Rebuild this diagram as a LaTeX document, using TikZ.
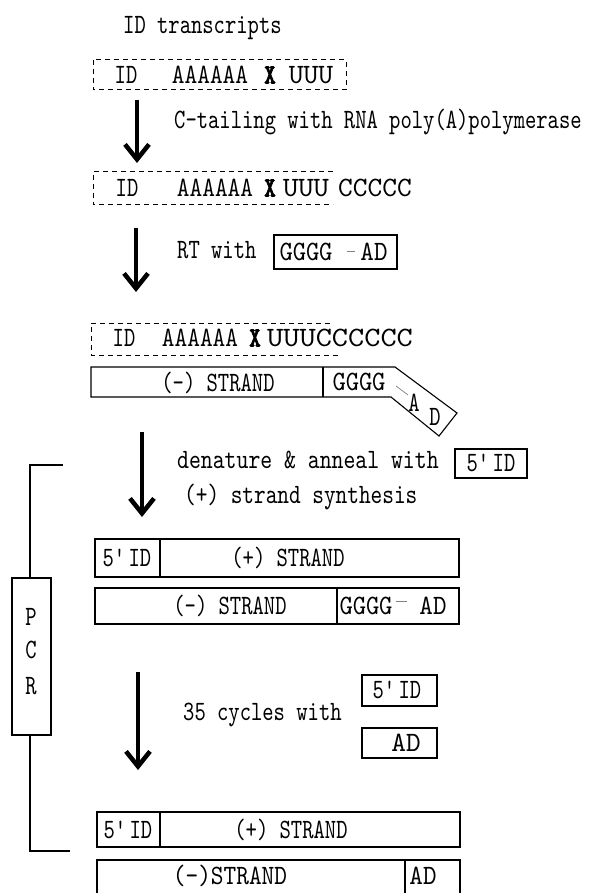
\documentclass[tikz,border=0pt]{standalone}
\usepackage{fontspec}
\usepackage{graphicx}
\usepackage{tikz}
\usetikzlibrary{arrows.meta,calc,positioning}
\newfontfamily\seqfamily{lmmono10-regular.otf}[FakeStretch=0.77,BoldFont=lmmonolt10-bold.otf]
\newcommand\seqfont{\seqfamily\fontsize{28}{32}\selectfont}
\newcommand\fiveid{5\textquotesingle ID}
\newcommand\widen[2]{\scalebox{#1}[1]{#2}}
\newcommand\heavyx{{\bfseries\addfontfeature{FakeBold=2.5}X}}

\begin{document}
\begin{tikzpicture}[x=1pt,y=-1pt,
    lbl/.style={font=\seqfont, inner sep=0pt, anchor=west},
    seq/.style={font=\seqfont, inner sep=0pt},
    strand/.style={draw, line width=1.1pt},
    rna/.style={draw, line width=1pt, dash pattern=on 5pt off 4pt},
    downarrow/.style={line width=4.5pt, -{Straight Barb[length=15pt,width=24pt]}},
    tie/.style={gray, line width=0.7pt}]
        \useasboundingbox (0,0) rectangle (596,893);
        %Arrow ends
        \coordinate (s1) at (137,100);
        \coordinate (e1) at (137,163);
        \coordinate (s2) at (136,228);
        \coordinate (e2) at (136,292);
        \coordinate (s3) at (142,432);
        \coordinate (e3) at (142,517);
        \coordinate (s4) at (138,672);
        \coordinate (e4) at (138,770);
        %Transcript
        \node[lbl] (title) at (123,28) {ID transcripts};
        \draw[rna] (93,60) rectangle (346,90);
        \node[seq] (id1) at (126,75) {ID};
        \node[seq] (pa1) at (210,75) {\widen{1.12}{AAAAAA}};
        \node[seq] (x1) at (270,75) {\heavyx};
        \node[seq] (u1) at (311,75) {\widen{1.3}{UUU}};
        %C-tailing
        \draw[downarrow] (s1) -- (e1);
        \node[lbl] (ctail) at (174,122) {C-tailing with RNA poly(A)polymerase};
        \draw[rna] (333,172) -- (93,172) -- (93,205) -- (333,205);
        \node[seq] (id2) at (127,188) {ID};
        \node[seq] (pa2) at (215,188) {\widen{1.12}{AAAAAA}};
        \node[seq] (x2) at (270,188) {\heavyx};
        \node[seq] (u2) at (306,188) {\widen{1.35}{UUU}};
        \node[seq] (c2) at (375,188) {\widen{1.3}{CCCCC}};
        %RT
        \draw[downarrow] (s2) -- (e2);
        \node[lbl] (rt) at (177,250) {RT with};
        \draw[strand] (274,235) rectangle (397,269);
        \node[seq] (g0) at (306,252) {\widen{1.17}{GGGG}};
        \node[seq] (ad0) at (374,252) {\widen{1.2}{AD}};
        \draw[tie] (347,251) -- (355,251);
        \draw[rna] (330,323) -- (91,323) -- (91,355) -- (338,355);
        \node[seq] (id3) at (124,338) {ID};
        \node[seq] (pa3) at (200,338) {\widen{1.12}{AAAAAA}};
        \node[seq] (x3) at (255,338) {\heavyx};
        \node[seq, anchor=west] (uc3) at (267,338) {\widen{1.43}{UUUCCCCCC}};
        \draw[strand] (91,367) -- (395,367) -- (457,413) -- (439,436) -- (391,397) -- (91,397) -- cycle;
        \draw[strand] (323,367) -- (323,397);
        \node[seq] (minus1) at (218,383) {(-) STRAND};
        \node[seq] (g1) at (359,382) {\widen{1.17}{GGGG}};
        \node[seq] (a1) at (414,403) {A};
        \node[seq] (d1) at (435,417) {D};
        \draw[tie] (396,386) -- (408,395);
        %Denature
        \draw[downarrow] (s3) -- (e3);
        \node[lbl] (den) at (177,460) {\widen{1.05}{denature \& anneal with}};
        \draw[strand] (455,449) rectangle (527,478);
        \node[seq] (p0) at (491,463) {\fiveid};
        \node[lbl] (syn) at (184,497) {\widen{1.03}{(+) strand synthesis}};
        \draw[strand] (95,539) rectangle (459,577);
        \draw[strand] (160,539) -- (160,577);
        \node[seq] (id4) at (127,558) {\fiveid};
        \node[seq] (plus4) at (288,558) {(+) STRAND};
        \draw[strand] (95,588) rectangle (459,624);
        \draw[strand] (337,588) -- (337,624);
        \node[seq] (minus4) at (230,606) {(-) STRAND};
        \node[seq] (g4) at (366,606) {\widen{1.17}{GGGG}};
        \node[seq] (ad4) at (433,606) {\widen{1.2}{AD}};
        \draw[tie] (396,601) -- (407,601);
        %PCR
        \draw[strand] (63,465) -- (30,465) -- (30,578);
        \draw[strand] (12,578) rectangle (51,735);
        \draw[strand] (30,735) -- (30,851) -- (70,851);
        \node[seq] (pp) at (31,617) {P};
        \node[seq] (pc) at (31,650) {C};
        \node[seq] (pr) at (31,686) {R};
        \draw[downarrow] (s4) -- (e4);
        \node[lbl] (cyc) at (183,715) {35 cycles with};
        \draw[strand] (362,675) rectangle (437,706);
        \node[seq] (p5) at (397,690) {\fiveid};
        \draw[strand] (362,728) rectangle (437,758);
        \node[seq] (p6) at (406,743) {\widen{1.3}{AD}};
        %Product
        \draw[strand] (97,812) rectangle (460,847);
        \draw[strand] (160,812) -- (160,847);
        \node[seq] (id7) at (128,830) {\fiveid};
        \node[seq] (plus7) at (291,830) {(+) STRAND};
        \draw[strand] (97,893) -- (97,860) -- (460,860) -- (460,893);
        \draw[strand] (405,860) -- (405,893);
        \node[seq] (minus8) at (230,876) {\widen{1.12}{(-)STRAND}};
        \node[seq] (ad8) at (423,876) {\widen{1.2}{AD}};
\end{tikzpicture}
\end{document}
